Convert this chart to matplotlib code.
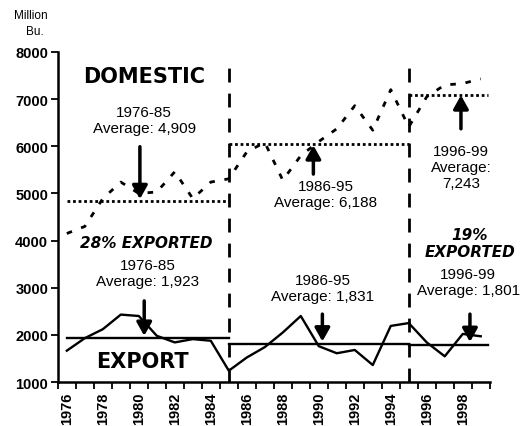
import numpy as np
from matplotlib import pyplot as plt

years = np.arange(1976, 2000)
domestic = [4150, 4300, 4890, 5240, 5000, 5030, 5460, 4890, 5240, 5310,
            5880, 6080, 5280, 5800, 6100, 6370, 6860, 6340, 7200, 6410,
            7050, 7300, 7330, 7430]
export = [1665, 1930, 2120, 2430, 2400, 1980, 1840, 1910, 1875, 1240,
          1520, 1740, 2050, 2400, 1760, 1610, 1680, 1360, 2190, 2250,
          1840, 1545, 2020, 1970]

avg_spans = [(1976, 1985), (1985, 1995), (1995, 1999.4)]
dom_avg = [4830, 6040, 7090]
exp_avg = [1940, 1815, 1785]
splits = [1985, 1995]

plt.rcParams['font.family'] = ['Liberation Sans', 'DejaVu Sans']
fig = plt.figure(figsize=(5.21, 4.27), dpi=100)
ax = fig.add_axes([0.111, 0.103, 0.829, 0.773])

ax.plot(years, domestic, color='black', lw=2, linestyle=(0, (2, 3.5)))
ax.plot(years, export, color='black', lw=1.7)

for (a, b), d, e in zip(avg_spans, dom_avg, exp_avg):
    ax.plot([a, b], [d, d], color='black', lw=2, linestyle=(0, (1, 1)))
    ax.plot([a, b], [e, e], color='black', lw=1.7)

for s in splits:
    ax.plot([s, s], [1000, 7800], color='black', lw=2, linestyle=(0, (5, 4)))

ax.set_xlim(1975.5, 1999.5)
ax.set_ylim(1000, 8000)
ax.set_yticks(range(1000, 8001, 1000))
ax.set_yticklabels([str(v) for v in range(1000, 8001, 1000)], fontweight='bold', fontsize=10.5)
ax.set_xticks(np.arange(1975.5, 2000, 1))
ax.set_xticklabels([])
ax.set_xticks(years[::2], minor=True)
ax.set_xticklabels([str(y) for y in years[::2]], minor=True, rotation=90,
                   fontweight='bold', fontsize=10.5)
ax.tick_params(axis='x', which='major', length=5, width=1.3, direction='out')
ax.tick_params(axis='x', which='minor', length=0, pad=7)
ax.tick_params(axis='y', length=5, width=1.3, direction='out', pad=2)
for side in ['top', 'right']:
    ax.spines[side].set_visible(False)
for side in ['left', 'bottom']:
    ax.spines[side].set_linewidth(1.8)

fig.text(0.06, 0.962, 'Million', fontsize=8.5, ha='center', va='center')
fig.text(0.067, 0.925, 'Bu.', fontsize=8.5, ha='center', va='center')

big = dict(fontsize=15, fontweight='heavy', family='DejaVu Sans', ha='center', va='center')
ax.text(1980.3, 7480, 'DOMESTIC', **big)
ax.text(1980.2, 1440, 'EXPORT', **big)

norm = dict(fontsize=11, ha='center', va='center', linespacing=1.2)
ax.text(1980.3, 6560, '1976-85\nAverage: 4,909', **norm)
ax.text(1990.4, 4990, '1986-95\nAverage: 6,188', **norm)
ax.text(1997.9, 5560, '1996-99\nAverage:\n7,243', **norm)
ax.text(1980.5, 3310, '1976-85\nAverage: 1,923', **norm)
ax.text(1990.2, 2995, '1986-95\nAverage: 1,831', **norm)
ax.text(1998.3, 3125, '1996-99\nAverage: 1,801', **norm)

bi = dict(fontsize=11, fontweight='heavy', style='italic', family='DejaVu Sans',
          ha='center', va='center', linespacing=1.1)
ax.text(1980.4, 3960, '28% EXPORTED', **bi)
ax.text(1998.4, 3950, '19%\nEXPORTED', **bi)

arrow = dict(arrowstyle='-|>,head_width=0.45,head_length=0.8', color='black', lw=2.5,
             shrinkA=0, shrinkB=0)
ax.annotate('', xy=(1980.06, 4880), xytext=(1980.06, 5990), arrowprops=arrow)
ax.annotate('', xy=(1989.7, 6020), xytext=(1989.7, 5410), arrowprops=arrow)
ax.annotate('', xy=(1997.9, 7080), xytext=(1997.9, 6370), arrowprops=arrow)
ax.annotate('', xy=(1980.3, 1980), xytext=(1980.3, 2720), arrowprops=arrow)
ax.annotate('', xy=(1990.2, 1860), xytext=(1990.2, 2440), arrowprops=arrow)
ax.annotate('', xy=(1998.4, 1850), xytext=(1998.4, 2440), arrowprops=arrow)

fig.savefig('out.png', dpi=100)
